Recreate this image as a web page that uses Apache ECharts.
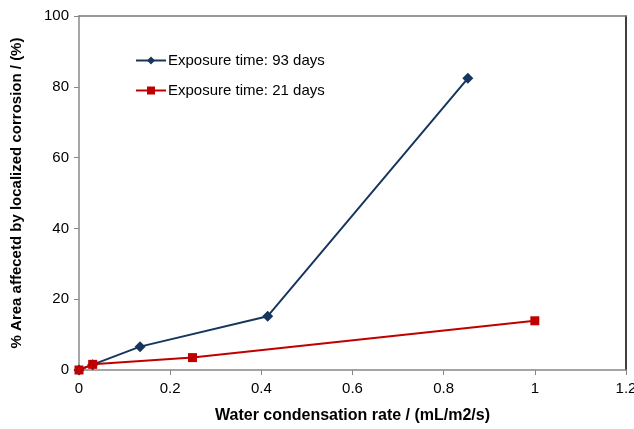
<!DOCTYPE html>
<html><head><meta charset="utf-8">
<script src="https://cdn.jsdelivr.net/npm/echarts@6/dist/echarts.min.js"></script>
<style>html,body{margin:0;padding:0;background:#fff;overflow:hidden}#c{width:634px;height:429px}</style>
</head><body><div id="c"></div>
<script>
const seriesNames = ['Exposure time: 93 days', 'Exposure time: 21 days'];
const x93 = [0, 0.03, 0.134, 0.414, 0.853];
const y93 = [0, 1.5, 6.6, 15.2, 82.4];
const x21 = [0, 0.03, 0.249, 1.0];
const y21 = [0, 1.6, 3.5, 13.9];
const xTicks = [0, 0.2, 0.4, 0.6, 0.8, 1, 1.2];
const yTicks = [0, 20, 40, 60, 80, 100];

const font = 'Liberation Sans';
const chart = echarts.init(document.getElementById('c'));
chart.setOption({
  animation: false,
  grid: {left: 79, right: 8, top: 16, bottom: 59, outerBoundsMode: 'none', containLabel: false},
  legend: {
    orient: 'vertical', left: 130, top: 48, itemGap: 15,
    itemWidth: 30, itemHeight: 10,
    textStyle: {fontFamily: font, fontSize: 15, color: '#000', padding: [0, 0, 0, -3]},
    data: seriesNames
  },
  xAxis: [{
    type: 'value', min: 0, max: 1.2, interval: 0.2,
    name: 'Water condensation rate / (mL/m2/s)', nameLocation: 'middle', nameGap: 38,
    nameTextStyle: {fontFamily: font, fontSize: 16, fontWeight: 'bold', color: '#000'},
    axisLine: {lineStyle: {color: '#888', width: 1.5}},
    axisTick: {show: true, length: 5, lineStyle: {color: '#888'}},
    axisLabel: {fontFamily: font, fontSize: 15, color: '#000', margin: 11,
      formatter: v => String(Math.round(v * 10) / 10)},
    splitLine: {show: false}
  }, {
    type: 'value', position: 'top', min: 0, max: 1.2,
    axisLine: {show: true, onZero: false, lineStyle: {color: '#777', width: 1.5}},
    axisTick: {show: false}, axisLabel: {show: false}, splitLine: {show: false}
  }],
  yAxis: [{
    type: 'value', min: 0, max: 100, interval: 20,
    name: '% Area affecetd by localized corrosion / (%)', nameLocation: 'middle', nameGap: 55,
    nameTextStyle: {fontFamily: font, fontSize: 15, fontWeight: 'bold', color: '#000'},
    axisLine: {show: true, onZero: false, lineStyle: {color: '#888', width: 1.5}},
    axisTick: {show: true, length: 5, lineStyle: {color: '#888'}},
    axisLabel: {fontFamily: font, fontSize: 15, color: '#000', margin: 10},
    splitLine: {show: false}
  }, {
    type: 'value', position: 'right', min: 0, max: 100,
    axisLine: {show: true, onZero: false, lineStyle: {color: '#000', width: 1.5}},
    axisTick: {show: false}, axisLabel: {show: false}, splitLine: {show: false}
  }],
  series: [{
    name: seriesNames[0], type: 'line',
    data: x93.map((x, i) => [x, y93[i]]),
    symbol: 'diamond', symbolSize: 11,
    itemStyle: {color: '#17365D'},
    lineStyle: {color: '#17365D', width: 2}
  }, {
    name: seriesNames[1], type: 'line',
    data: x21.map((x, i) => [x, y21[i]]),
    symbol: 'rect', symbolSize: 9,
    itemStyle: {color: '#C00000'},
    lineStyle: {color: '#C00000', width: 2}
  }]
});
</script></body></html>
